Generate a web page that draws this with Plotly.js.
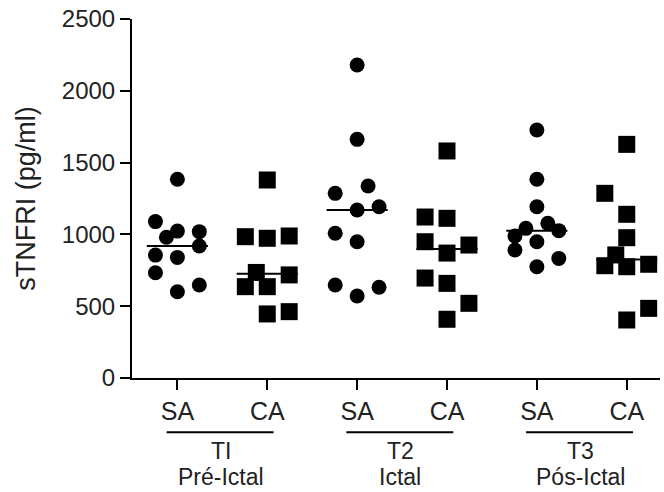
<!DOCTYPE html>
<html>
<head>
<meta charset="utf-8">
<script src="https://cdn.plot.ly/plotly-3.0.1.min.js"></script>
<style>html,body{margin:0;padding:0;background:#fff;}#chart{width:664px;height:492px;}</style>
</head>
<body>
<div id="chart"></div>
<script>
// ---- data ----
const columnLabels = ['SA', 'CA', 'SA', 'CA', 'SA', 'CA'];
const timeLabels = ['TI', 'T2', 'T3'];
const phaseLabels = ['Pré-Ictal', 'Ictal', 'Pós-Ictal'];
const yTicks = [0, 500, 1000, 1500, 2000, 2500];

const sa1 = [1384, 1089, 980, 1023, 1019, 919, 856, 840, 733, 648, 601];
const ca1 = [1379, 984, 973, 989, 735, 718, 636, 636, 446, 462];
const sa2 = [2180, 1662, 1286, 1337, 1170, 1193, 1008, 949, 648, 571, 632];
const ca2 = [1581, 1121, 1112, 949, 870, 926, 696, 659, 520, 409];
const sa3 = [1727, 1384, 1193, 989, 891, 1042, 949, 1077, 1026, 833, 775];
const ca3 = [1627, 1286, 1140, 977, 857, 782, 775, 792, 485, 404];

// horizontal scatter slots of each point (as drawn in the reference)
const sa1Slots = [0, -2, -1, 0, 2, 2, -2, 0, -2, 2, 0];
const ca1Slots = [0, -2, 0, 2, -1, 2, -2, 0, 0, 2];
const sa2Slots = [0, 0, -2, 1, 0, 2, -2, 0, -2, 0, 2];
const ca2Slots = [0, -2, 0, -2, 0, 2, -2, 0, 2, 0];
const sa3Slots = [0, 0, 0, -2, -2, -1, 0, 1, 2, 2, 0];
const ca3Slots = [0, -2, 0, 0, -1, -2, 0, 2, 2, 0];

// ---- build ----
const columns = [sa1, ca1, sa2, ca2, sa3, ca3];
const slots = [sa1Slots, ca1Slots, sa2Slots, ca2Slots, sa3Slots, ca3Slots];
const slotStep = 0.122;
const medHalf = 0.34;

function median(a) {
  const s = a.slice().sort((p, q) => p - q);
  const n = s.length;
  return n % 2 ? s[(n - 1) / 2] : (s[n / 2 - 1] + s[n / 2]) / 2;
}

const traces = [];
columns.forEach((vals, i) => {
  const m = median(vals);
  traces.push({
    type: 'scatter', mode: 'lines', x: [i - medHalf, i + medHalf], y: [m, m],
    line: {color: '#000', width: 2}, hoverinfo: 'skip', showlegend: false
  });
});
columns.forEach((vals, i) => {
  const isSA = columnLabels[i] === 'SA';
  traces.push({
    type: 'scatter', mode: 'markers',
    x: vals.map((v, k) => i + slots[i][k] * slotStep), y: vals,
    marker: {symbol: isSA ? 'circle' : 'square', size: isSA ? 15 : 17, color: '#000', line: {width: 0}},
    cliponaxis: false, showlegend: false
  });
});

const shapes = [];
const annotations = [];
timeLabels.forEach((t, g) => {
  const x0 = 2 * g - 0.12, x1 = 2 * g + 1.07, xc = 2 * g + 0.48;
  shapes.push({type: 'line', xref: 'x', yref: 'paper', x0: x0, x1: x1, y0: -0.151, y1: -0.151,
    line: {color: '#000', width: 2}});
  annotations.push({xref: 'x', yref: 'paper', x: xc, y: -0.203, text: t, showarrow: false,
    xanchor: 'center', yanchor: 'middle', font: {family: 'Liberation Sans, Arial, sans-serif', size: 23, color: '#222'}});
  annotations.push({xref: 'x', yref: 'paper', x: xc, y: -0.277, text: phaseLabels[g], showarrow: false,
    xanchor: 'center', yanchor: 'middle', font: {family: 'Liberation Sans, Arial, sans-serif', size: 23, color: '#222'}});
});

const layout = {
  width: 664, height: 492,
  margin: {l: 132, r: 4, t: 19, b: 114},
  paper_bgcolor: '#fff', plot_bgcolor: '#fff',
  showlegend: false,
  font: {family: 'Liberation Sans, Arial, sans-serif', color: '#222'},
  xaxis: {
    range: [-0.505, 5.37], tickmode: 'array', tickvals: [0, 1, 2, 3, 4, 5], ticktext: columnLabels,
    ticks: 'outside', ticklen: 10, tickwidth: 2, tickcolor: '#000',
    showline: true, linewidth: 2, linecolor: '#000', showgrid: false, zeroline: false,
    tickfont: {size: 25, color: '#222'}, automargin: false
  },
  yaxis: {
    range: [0, 2500], tickmode: 'array', tickvals: yTicks,
    ticks: 'outside', ticklen: 10, tickwidth: 2, tickcolor: '#000',
    showline: true, linewidth: 2, linecolor: '#000', showgrid: false, zeroline: false,
    tickfont: {size: 24, color: '#222'}, automargin: false,
    title: {text: 'sTNFRI (pg/ml)', font: {size: 27, color: '#222'}, standoff: 18}
  },
  shapes: shapes,
  annotations: annotations
};

Plotly.newPlot('chart', traces, layout, {staticPlot: true, displayModeBar: false});
</script>
</body>
</html>
